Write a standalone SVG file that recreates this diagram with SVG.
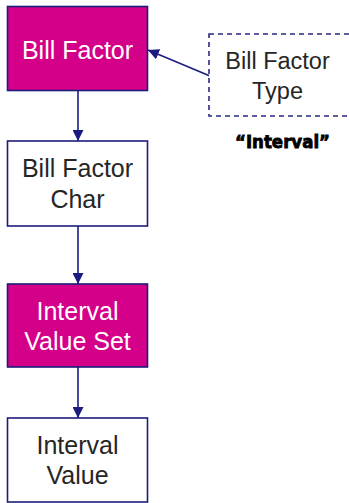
<svg xmlns="http://www.w3.org/2000/svg" width="349" height="503" viewBox="0 0 349 503">
<style>
.box{stroke:#1c1c7a;stroke-width:1.6}
.mag{fill:#d4008a}
.wht{fill:#ffffff}
.dash{fill:#ffffff;stroke:#2a2a80;stroke-width:1.6;stroke-dasharray:5 4}
.t{font-family:"Liberation Sans",Arial,sans-serif;font-size:25px;text-anchor:middle}
.tw{fill:#ffffff}
.td{fill:#262626}
.conn{stroke:#1c1c80;stroke-width:1.6;fill:none}
.lbl{font-family:"DejaVu Sans","Liberation Sans",sans-serif;font-weight:bold;font-size:17.5px;fill:#000000;stroke:#000000;stroke-width:0.8}
</style>
<defs>
<marker id="ah" markerUnits="userSpaceOnUse" markerWidth="12" markerHeight="11" refX="11" refY="5.5" orient="auto" viewBox="0 0 12 11">
<path d="M0,0 L11,5.5 L0,11 z" fill="#1c1c80"/>
</marker>
</defs>
<g id="connectors">
<line class="conn" x1="78" y1="91" x2="78" y2="141" marker-end="url(#ah)"/>
<line class="conn" x1="78" y1="226" x2="78" y2="284" marker-end="url(#ah)"/>
<line class="conn" x1="78" y1="367" x2="78" y2="418" marker-end="url(#ah)"/>
<line class="conn" x1="210" y1="76" x2="148" y2="50" marker-end="url(#ah)"/>
</g>
<g id="bill-factor">
<rect class="box mag" x="7.5" y="6.5" width="140" height="84"/>
<text class="t tw" x="77.5" y="58.5">Bill Factor</text>
</g>
<g id="bill-factor-type">
<rect class="dash" x="209" y="34" width="145" height="82"/>
<text class="t td" x="277.5" y="68.5" style="font-size:23.5px">Bill Factor</text>
<text class="t td" x="277.5" y="99" style="font-size:23.5px">Type</text>
</g>
<text class="lbl" x="235" y="148" textLength="95" lengthAdjust="spacingAndGlyphs">“Interval”</text>
<g id="bill-factor-char">
<rect class="box wht" x="7.5" y="141" width="140" height="85"/>
<text class="t td" x="77.5" y="177">Bill Factor</text>
<text class="t td" x="77.5" y="208">Char</text>
</g>
<g id="interval-value-set">
<rect class="box mag" x="7.5" y="284" width="140" height="83"/>
<text class="t tw" x="77.5" y="320">Interval</text>
<text class="t tw" x="77.5" y="350">Value Set</text>
</g>
<g id="interval-value">
<rect class="box wht" x="7.5" y="418" width="140" height="84"/>
<text class="t td" x="77.5" y="454">Interval</text>
<text class="t td" x="77.5" y="484">Value</text>
</g>
</svg>
